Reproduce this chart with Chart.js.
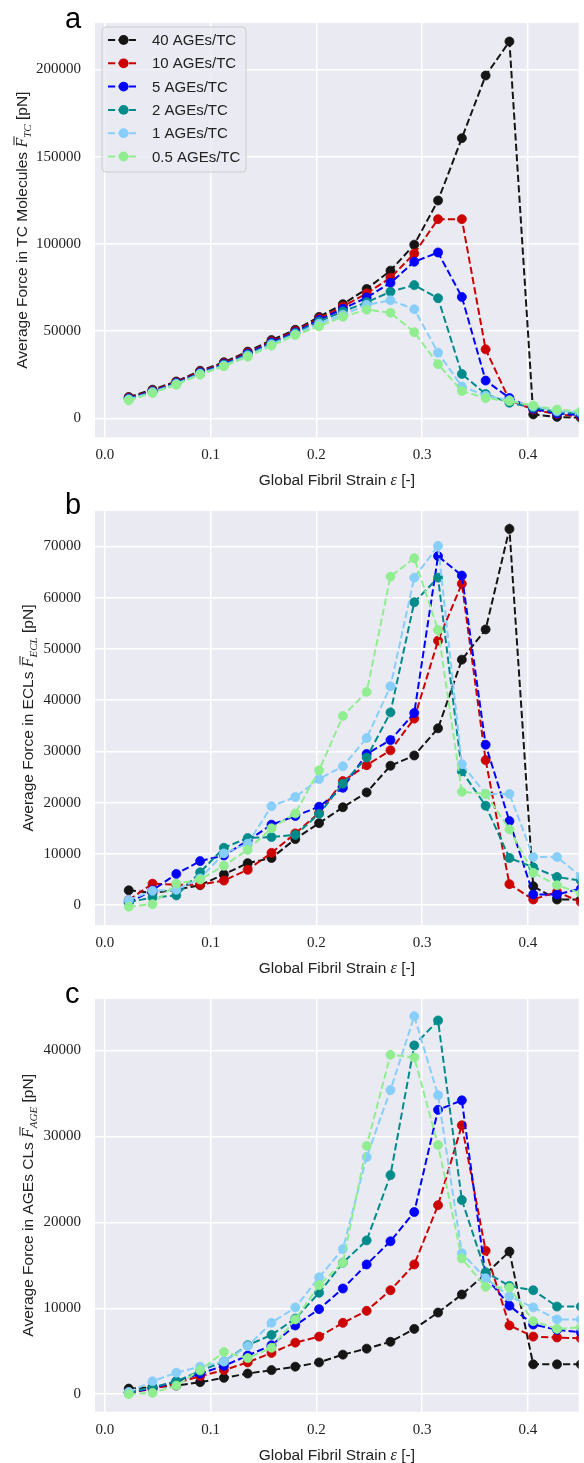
<!DOCTYPE html>
<html><head><meta charset="utf-8">
<script src="https://cdn.jsdelivr.net/npm/chart.js@4.4.1/dist/chart.umd.min.js"></script>
<style>
html,body{margin:0;padding:0;background:#fff;overflow:hidden;width:584px;height:1463px;position:relative}
canvas{position:absolute;left:0;display:block}
</style>
</head><body>
<canvas id="ca" width="584" height="488" style="top:0px"></canvas>
<canvas id="cb" width="584" height="488" style="top:488px"></canvas>
<canvas id="cc" width="584" height="487" style="top:976px"></canvas>
<script>
// ---------- data ----------
const strain = [0.0225, 0.045, 0.0675, 0.09, 0.1125, 0.135, 0.1575, 0.18, 0.2025, 0.225,
                0.2475, 0.27, 0.2925, 0.315, 0.3375, 0.36, 0.3825, 0.405, 0.4275, 0.45];
const seriesLabels = ['40 AGEs/TC', '10 AGEs/TC', '5 AGEs/TC', '2 AGEs/TC', '1 AGEs/TC', '0.5 AGEs/TC'];
const seriesColors = ['#151515', '#CC0000', '#0000FF', '#008B8B', '#87CEFA', '#90EE90'];
const xTicks = [0.0, 0.1, 0.2, 0.3, 0.4];

// panel a: average force in TC molecules [pN]
const tc40  = [12300, 16500, 21200, 27300, 32200, 38300, 44900, 50800, 58200, 65500, 74200, 84700, 99600, 124900, 160600, 196500, 216000, 2300, 900, 300];
const tc10  = [11900, 16000, 20800, 26800, 31700, 37700, 44200, 50100, 57300, 64200, 71700, 80600, 94500, 114200, 114200, 39600, 10500, 5100, 2500, 1000];
const tc5   = [11500, 15600, 20400, 26300, 31200, 37100, 43600, 49400, 56500, 62800, 69300, 77700, 89800, 95100, 69600, 21700, 11700, 5500, 2800, 1800];
const tc2   = [11200, 15300, 20100, 25900, 30800, 36600, 43000, 48900, 55600, 61300, 66600, 72600, 76400, 68900, 25500, 14000, 9000, 6200, 3800, 2800];
const tc1   = [10800, 15000, 19700, 25500, 30300, 36000, 42400, 48300, 54300, 59400, 65100, 67700, 62600, 37700, 18300, 13000, 10500, 7000, 4300, 3500];
const tc05  = [10400, 14600, 19300, 25100, 29900, 35400, 41700, 47800, 52800, 58300, 62300, 60600, 49400, 31100, 15700, 11700, 10000, 7400, 5100, 4200];
const tcTicks = [0, 50000, 100000, 150000, 200000];

// panel b: average force in ECLs [pN]
const ecl40 = [2900, 2400, 3000, 3900, 6000, 8200, 9200, 12900, 16000, 19100, 22000, 27200, 29200, 34500, 47900, 53800, 73400, 3700, 1100, 1100];
const ecl10 = [1000, 4200, 4000, 4000, 4800, 6900, 10200, 14000, 18000, 24200, 27300, 30200, 36400, 51600, 62700, 28300, 4100, 1100, 2600, 600];
const ecl5  = [500, 2900, 6100, 8600, 9700, 12600, 15700, 17400, 19200, 22900, 29500, 32200, 37500, 68100, 64300, 31300, 16400, 2100, 2100, 3200];
const ecl2  = [600, 1500, 1900, 6400, 11200, 13100, 13300, 13700, 17800, 23700, 28800, 37600, 59100, 63900, 26100, 19400, 9200, 7400, 5500, 4800];
const ecl1  = [1000, 2800, 3000, 5200, 10100, 12000, 19300, 21100, 24600, 27100, 32600, 42700, 63900, 70100, 27500, 21700, 21700, 9400, 9400, 5600];
const ecl05 = [-300, 200, 4200, 5000, 7700, 10800, 15000, 17900, 26300, 36900, 41600, 64100, 67700, 53700, 22100, 21700, 14800, 6300, 3900, 2300];
const eclTicks = [0, 10000, 20000, 30000, 40000, 50000, 60000, 70000];

// panel c: average force in AGEs CLs [pN]
const age40 = [650, 800, 1000, 1400, 1900, 2400, 2800, 3200, 3700, 4600, 5300, 6100, 7600, 9500, 11600, 14000, 16600, 3470, 3470, 3470];
const age10 = [200, 600, 1300, 2100, 2800, 3700, 4800, 6000, 6700, 8300, 9700, 12100, 15100, 22000, 31300, 16700, 8000, 6700, 6600, 6500];
const age5  = [150, 700, 1500, 2400, 3300, 4500, 5700, 8000, 9900, 12300, 15100, 17800, 21200, 33100, 34200, 13700, 10300, 8100, 7500, 7200];
const age2  = [200, 800, 1500, 2700, 3800, 5700, 6900, 8800, 11800, 15300, 17900, 25500, 40600, 43500, 22600, 14200, 12600, 12100, 10200, 10200];
const age1  = [250, 1500, 2500, 3200, 3800, 5600, 8300, 10100, 13600, 16900, 27600, 35400, 44000, 34800, 16400, 13500, 11400, 10100, 8700, 8700];
const age05 = [0, 150, 1000, 2800, 4900, 4200, 5400, 8700, 12700, 15300, 28900, 39500, 39200, 29000, 15800, 12500, 12400, 8500, 7600, 7800];
const ageTicks = [0, 10000, 20000, 30000, 40000];

// ---------- styling ----------
const SANS = '"Liberation Sans", Arial, sans-serif';
const SERIF = '"Liberation Serif", "Times New Roman", serif';
const TXT = '#222222';
const BG = '#EAEAF2';
const DASH = [7.2, 3.2];

function makeDatasets(list) {
  return list.map((vals, i) => ({
    label: seriesLabels[i],
    data: strain.map((x, j) => ({x: x, y: vals[j]})),
    borderColor: seriesColors[i],
    backgroundColor: seriesColors[i],
    pointBackgroundColor: seriesColors[i],
    pointBorderColor: seriesColors[i],
    borderWidth: 2,
    borderDash: DASH,
    pointRadius: 4.5,
    pointBorderWidth: 0.8,
    pointHoverRadius: 4.5,
    tension: 0,
    fill: false,
    order: list.length - i
  }));
}

function drawRich(ctx, pieces, x, y, rotate) {
  ctx.save();
  ctx.translate(x, y);
  if (rotate) ctx.rotate(-Math.PI / 2);
  let total = 0;
  pieces.forEach(p => { ctx.font = p.f; p.w = ctx.measureText(p.t).width; total += p.w; });
  let cx = -total / 2;
  ctx.textBaseline = 'alphabetic';
  ctx.textAlign = 'left';
  ctx.fillStyle = TXT;
  pieces.forEach(p => {
    ctx.font = p.f;
    ctx.fillText(p.t, cx, p.dy || 0);
    if (p.bar) ctx.fillRect(cx + 2.5, -13.5, p.w - 1, 1);
    cx += p.w;
  });
  ctx.restore();
}

function decoPlugin(opt) {
  return {
    id: 'deco_' + opt.letter,
    beforeDraw(chart) {
      const {ctx, chartArea: a} = chart;
      ctx.save();
      ctx.fillStyle = BG;
      ctx.fillRect(a.left, a.top, a.right - a.left, a.bottom - a.top);
      ctx.restore();
    },
    afterDraw(chart) {
      const {ctx, chartArea: a} = chart;
      ctx.save();
      ctx.fillStyle = '#000';
      ctx.font = '29px ' + SANS;
      ctx.textBaseline = 'alphabetic';
      ctx.textAlign = 'left';
      ctx.fillText(opt.letter, 65, opt.letterY);
      ctx.restore();
      drawRich(ctx, [
        {t: 'Global Fibril Strain ', f: '15.5px ' + SANS},
        {t: 'ε', f: 'italic 16px ' + SERIF},
        {t: ' [-]', f: '15.5px ' + SANS}
      ], (a.left + a.right) / 2, a.bottom + 48, false);
      drawRich(ctx, [
        {t: opt.yText, f: '15.5px ' + SANS},
        {t: 'F', f: 'italic 16px ' + SERIF, bar: true},
        {t: opt.sub, f: 'italic 11px ' + SERIF, dy: 3.5},
        {t: ' [pN]', f: '15.5px ' + SANS}
      ], opt.yTitleX, (a.top + a.bottom) / 2, true);
      if (opt.legend) {
        ctx.save();
        const bx = 102, by = 27, bw = 144, bh = 145, r = 4;
        ctx.beginPath();
        ctx.moveTo(bx + r, by);
        ctx.arcTo(bx + bw, by, bx + bw, by + bh, r);
        ctx.arcTo(bx + bw, by + bh, bx, by + bh, r);
        ctx.arcTo(bx, by + bh, bx, by, r);
        ctx.arcTo(bx, by, bx + bw, by, r);
        ctx.closePath();
        ctx.fillStyle = 'rgba(234,234,242,0.8)';
        ctx.fill();
        ctx.strokeStyle = '#CCCCCC';
        ctx.lineWidth = 1;
        ctx.stroke();
        chart.data.datasets.forEach((ds, i) => {
          const yy = 40 + i * 23.3;
          ctx.strokeStyle = ds.borderColor;
          ctx.lineWidth = 2;
          ctx.setLineDash(DASH);
          ctx.beginPath();
          ctx.moveTo(108, yy);
          ctx.lineTo(139, yy);
          ctx.stroke();
          ctx.setLineDash([]);
          ctx.fillStyle = ds.borderColor;
          ctx.beginPath();
          ctx.arc(123.6, yy, 4.9, 0, Math.PI * 2);
          ctx.fill();
          ctx.fillStyle = TXT;
          ctx.font = '15px ' + SANS;
          ctx.textBaseline = 'middle';
          ctx.textAlign = 'left';
          ctx.fillText(ds.label, 152, yy + 1);
        });
        ctx.restore();
      }
    }
  };
}

function makeChart(id, list, yMin, yMax, yTickVals, opt) {
  return new Chart(document.getElementById(id), {
    type: 'line',
    data: {datasets: makeDatasets(list)},
    options: {
      responsive: false,
      animation: false,
      devicePixelRatio: 1,
      layout: {padding: {top: opt.top, right: 0, bottom: 0, left: 0}},
      plugins: {legend: {display: false}, tooltip: {enabled: false}},
      scales: {
        x: {
          type: 'linear',
          min: -0.0094,
          max: 0.448,
          border: {display: false},
          grid: {color: '#FFFFFF', lineWidth: 1.5, drawTicks: false},
          afterBuildTicks: s => { s.ticks = xTicks.map(v => ({value: v})); },
          ticks: {
            autoSkip: false, maxRotation: 0, padding: 9,
            color: TXT, font: {family: SERIF, size: 15},
            callback: v => Number(v).toFixed(1)
          },
          afterFit: s => { s.height = opt.xAxisH; }
        },
        y: {
          type: 'linear',
          min: yMin,
          max: yMax,
          border: {display: false},
          grid: {color: '#FFFFFF', lineWidth: 1.5, drawTicks: false},
          afterBuildTicks: s => { s.ticks = yTickVals.map(v => ({value: v})); },
          ticks: {
            autoSkip: false, padding: 14,
            color: TXT, font: {family: SERIF, size: 15},
            callback: v => String(Math.round(v))
          },
          afterFit: s => { s.width = 95; }
        }
      }
    },
    plugins: [decoPlugin(opt)]
  });
}

makeChart('ca', [tc40, tc10, tc5, tc2, tc1, tc05], -10800, 226600, tcTicks,
  {letter: 'a', letterY: 28, top: 20, xAxisH: 50.7, yText: 'Average Force in TC Molecules ', sub: 'TC', yTitleX: 27, legend: true});
makeChart('cb', [ecl40, ecl10, ecl5, ecl2, ecl1, ecl05], -3870, 76900, eclTicks,
  {letter: 'b', letterY: 26, top: 19.3, xAxisH: 51, yText: 'Average Force in ECLs ', sub: 'ECL', yTitleX: 33, legend: false});
makeChart('cc', [age40, age10, age5, age2, age1, age05], -2040, 46000, ageTicks,
  {letter: 'c', letterY: 27, top: 19, xAxisH: 51.3, yText: 'Average Force in AGEs CLs ', sub: 'AGE', yTitleX: 33, legend: false});
</script>
</body></html>
